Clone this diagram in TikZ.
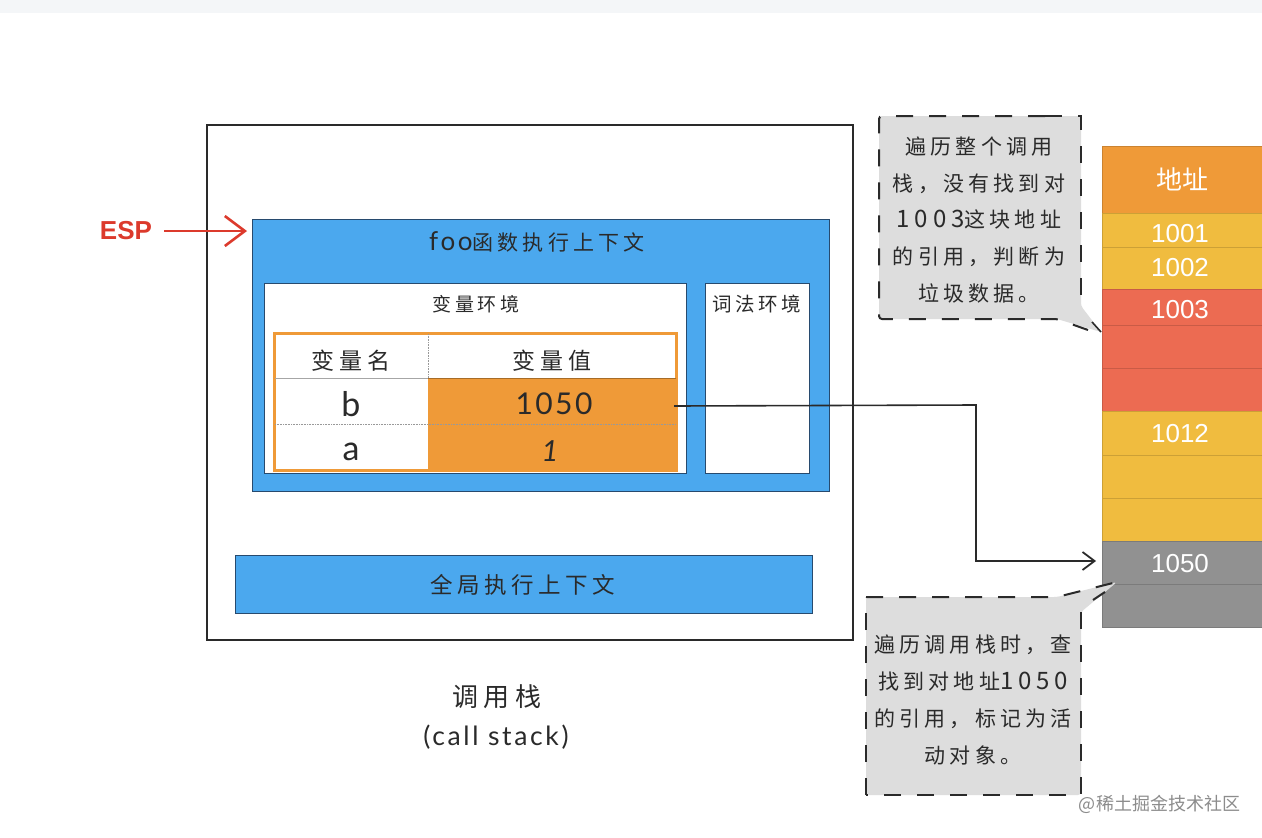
\documentclass[tikz,border=0pt]{standalone}
\usepackage{fontspec}
\usetikzlibrary{arrows.meta}
\setmainfont[LetterSpace=20]{Noto Sans CJK SC}
\newfontfamily\hfont{Liberation Sans}
\newfontfamily\lfont[LetterSpace=10]{Lato}
\newcommand{\fs}[1]{\fontsize{#1}{#1}\selectfont}
\definecolor{bluebox}{HTML}{4BA8EE}
\definecolor{orangec}{HTML}{EF9A38}
\definecolor{yellowc}{HTML}{F0BC3F}
\definecolor{redc}{HTML}{EC6B52}
\definecolor{grayc}{HTML}{919191}
\definecolor{callc}{HTML}{DDDDDD}
\definecolor{inkc}{HTML}{2A2A2A}
\definecolor{esp}{HTML}{DC3A2C}
\definecolor{navy}{HTML}{274A6E}
\definecolor{bandc}{HTML}{F4F6F8}
\tikzset{
  x=1pt,y=-1pt,
  every node/.style={inner sep=0pt,outer sep=0pt,text=inkc},
  hand/.style={fill=none,draw=inkc,line width=2pt},
  blueb/.style={fill=bluebox,draw=navy,line width=.6pt},
  whiteb/.style={fill=white,draw=navy,line width=1pt},
  cell/.style={draw=#1!85!black,line width=.5pt,fill=#1},
  celltxt/.style={text=white,font=\hfont\fs{26}},
  callout/.style={fill=callc,draw=none},
  calldash/.style={draw=inkc,line width=2pt,dash pattern=on 17pt off 16pt},
  calltxt/.style={align=center,font=\fontsize{21}{36.8}\selectfont,text=inkc},
  link/.style={draw=inkc,line width=1.6pt},
  openhead/.style={-{Straight Barb[length=12pt,width=18pt,line width=1.8pt]}},
  espsty/.style={-{Straight Barb[length=20pt,width=30pt,line width=2.6pt]}},
}
\begin{document}
\begin{tikzpicture}
\useasboundingbox (0,0) rectangle (1262,838);
\fill[white] (0,0) rectangle (1262,838);
\fill[bandc] (0,0) rectangle (1262,13);

% call stack frame
\draw[hand] (207,125) rectangle (853,640);
\path[blueb] (252,219) rectangle (829,491);
\node (foo) at (537,242) {\fs{26}\lfont foo\rmfamily\fs{21}函数执行上下文};
\path[whiteb] (264,283) rectangle (686,473);
\path[whiteb] (705,283) rectangle (809,473);
\node (varenv) at (476,304) {\fs{19}变量环境};
\node (lexenv) at (757,304) {\fs{19.5}\addfontfeature{LetterSpace=18}词法环境};

% variable table
\draw[orangec,line width=3pt] (274,333) rectangle (676,470);
\fill[orangec] (428,378) rectangle (677,472);
\draw[black!35,line width=1pt] (275,378) -- (428,378);
\draw[orangec!70!black,line width=1pt] (428,378) -- (676,378);
\draw[black!40,densely dotted,line width=.6pt] (428,334) -- (428,378);
\draw[black!40,densely dotted,line width=.6pt] (275,424) -- (676,424);
\node (hname) at (351,361) {\fs{23}变量名};
\node (hval) at (552,361) {\fs{23}变量值};
\node (nb) at (351,404) {\lfont\fs{34}b};
\node (na) at (351,452) {\lfont\fs{34}a};
\node (v1050) at (554,404) {\lfont\fs{30}\addfontfeature{LetterSpace=8}1050};
\node (v1) at (550,451) {\lfont\fs{29}\itshape 1};
\coordinate (v1050out) at (674,406);

% global context
\path[blueb] (235,555) rectangle (812,613);
\node (glob) at (523,585) {\fs{22.5}全局执行上下文};

\node (cs1) at (497,697) {\fs{26}调用栈};
\node (cs2) at (496,737) {\lfont\fs{26.5}(call stack)};

% ESP
\node[text=esp] (esplabel) at (126,231) {\hfont\bfseries\fs{26}ESP};
\coordinate (espend) at (247,231);
\draw[esp,line width=2.6pt,espsty] (esplabel.east)++(12,0) -- (espend);

% memory table
\node[cell=orangec,minimum width=160pt,minimum height=67pt,anchor=north west] (h) at (1102,146) {};
\node[text=white,font=\fs{26}] at (h.center) (ht) {\addfontfeature{LetterSpace=0}地址};
\node[cell=yellowc,minimum width=160pt,minimum height=34pt,anchor=north west] (m1) at (1102,213) {};
\node[cell=yellowc,minimum width=160pt,minimum height=42pt,anchor=north west] (m2) at (1102,247) {};
\node[cell=redc,minimum width=160pt,minimum height=36pt,anchor=north west] (m3) at (1102,289) {};
\node[cell=redc,minimum width=160pt,minimum height=43pt,anchor=north west] (m4) at (1102,325) {};
\node[cell=redc,minimum width=160pt,minimum height=43pt,anchor=north west] (m5) at (1102,368) {};
\node[cell=yellowc,minimum width=160pt,minimum height=44pt,anchor=north west] (m6) at (1102,411) {};
\node[cell=yellowc,minimum width=160pt,minimum height=43pt,anchor=north west] (m7) at (1102,455) {};
\node[cell=yellowc,minimum width=160pt,minimum height=43pt,anchor=north west] (m8) at (1102,498) {};
\node[cell=grayc,minimum width=160pt,minimum height=43pt,anchor=north west] (m9) at (1102,541) {};
\node[cell=grayc,minimum width=160pt,minimum height=43pt,anchor=north west] (m10) at (1102,584) {};
\node[celltxt] (t1) at (1180,234) {1001};
\node[celltxt] (t2) at (1180,268) {1002};
\node[celltxt] (t3) at (1180,310) {1003};
\node[celltxt] (t6) at (1180,434) {1012};
\node[celltxt] (t9) at (1180,564) {1050};

% reference arrow
\coordinate (bend1) at (976,405);
\coordinate (bend2) at (976,561);
\coordinate (target) at (1096,561);
\draw[link,openhead] (v1050out) -- (bend1) -- (bend2) -- (target);

% top callout
\fill[callout,rounded corners=3pt] (879,116) -- (1081,116) -- (1081,306) -- (1101,332) -- (1057,319) -- (879,319) -- cycle;
\draw[calldash,rounded corners=3pt] (1045,116) -- (879,116) -- (879,319) -- (1057,319) -- (1088,330);
\draw[calldash] (1045,116) -- (1081,116) -- (1081,306);
\draw[draw=inkc,line width=1.6pt] (1092,322) -- (1101,332);
\node[calltxt] (note1) at (979,220) {遍历整个调用\\栈，没有找到对\\{\fontsize{24}{36.8}\selectfont 1003}这块地址\\的引用，判断为\\垃圾数据。};

% bottom callout
\fill[callout,rounded corners=3pt] (866,597) -- (1057,597) -- (1117,582) -- (1081,612) -- (1081,795) -- (866,795) -- cycle;
\draw[calldash] (866,795) -- (866,597);
\draw[calldash] (866,597) -- (1057,597) -- (1117,582);
\draw[draw=inkc,line width=2pt] (1105,592) -- (1093,600);
\draw[calldash] (1081,612) -- (1081,795) -- (866,795);
\node[calltxt] (note2) at (973,700) {遍历调用栈时，查\\找到对地址{\fontsize{24}{36.8}\selectfont 1050}\\的引用，标记为活\\动对象。};

\node[anchor=east,text=black!45] (wm) at (1240,804) {\addfontfeature{LetterSpace=0}\fs{18}@稀土掘金技术社区};
\end{tikzpicture}
\end{document}
